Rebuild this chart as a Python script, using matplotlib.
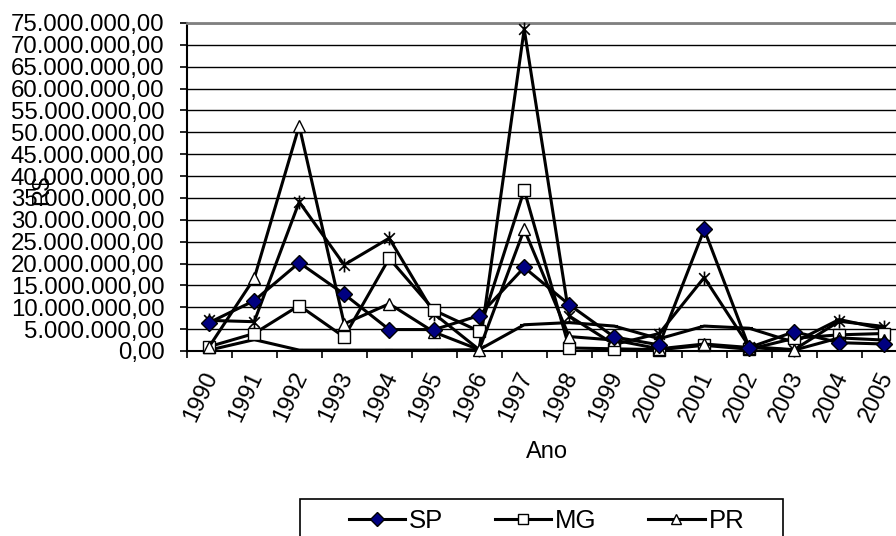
import matplotlib

matplotlib.use("Agg")
import matplotlib.pyplot as plt  # noqa: E402
from matplotlib.lines import Line2D  # noqa: E402
from matplotlib.patches import Rectangle  # noqa: E402
from matplotlib.path import Path  # noqa: E402
from matplotlib.ticker import FuncFormatter, MultipleLocator  # noqa: E402
from matplotlib.transforms import ScaledTranslation  # noqa: E402

plt.rcParams["font.family"] = ["Liberation Sans", "DejaVu Sans"]

# values in millions of R$
years = [str(y) for y in range(1990, 2006)]
sp = [6.5, 11.5, 20.2, 13.0, 4.9, 4.9, 8.1, 19.1, 10.6, 3.2, 1.4, 27.8, 0.8, 4.4, 1.9, 1.6]
mg = [1.0, 4.0, 10.4, 3.2, 21.2, 9.3, 4.5, 36.8, 0.7, 0.5, 0.3, 1.3, 0.4, 2.9, 3.7, 4.0]
pr = [1.0, 16.6, 51.5, 6.2, 10.8, 4.3, 0.3, 27.8, 3.3, 2.5, 0.5, 1.6, 0.8, 0.2, 3.0, 2.5]
serie4 = [7.0, 6.7, 34.1, 19.7, 25.8, 8.5, 0.3, 73.6, 8.0, 1.5, 4.0, 16.8, 1.0, 0.3, 6.8, 5.6]
serie5 = [0.2, 2.6, 0.2, 0.2, 0.2, 0.2, 0.3, 6.0, 6.5, 5.7, 2.8, 5.7, 5.2, 2.0, 7.2, 5.0]

W, H = 896, 536
fig = plt.figure(figsize=(W / 100, H / 100), dpi=100)
# plot area runs past the right edge of the picture, like the cropped original
ax = fig.add_axes([186.7 / W, 1 - 351 / H, 720 / W, 328 / H])

star = Path(
    [(-1, -1), (1, 1), (-1, 1), (1, -1), (0, -1.3), (0, 1.3)],
    [Path.MOVETO, Path.LINETO, Path.MOVETO, Path.LINETO, Path.MOVETO, Path.LINETO],
)

x = list(range(len(years)))
lw = 2.2
common = dict(color="black", lw=lw, mec="black", clip_on=False)

ax.plot(x, [v * 1e6 for v in sp], marker="D", ms=8.5, mfc="#000080", mew=1, zorder=5, **common)
ax.plot(x, [v * 1e6 for v in mg], marker="s", ms=8.5, mfc="white", mew=1, zorder=4, **common)
ax.plot(x, [v * 1e6 for v in pr], marker="^", ms=9, mfc="white", mew=1, zorder=4, **common)
ax.plot(x, [v * 1e6 for v in serie4], marker=star, ms=10, mfc="none", mew=1.2, zorder=3, **common)
ax.plot(x, [v * 1e6 for v in serie5], marker="_", ms=6, mew=1.5, zorder=3, **common)

ax.set_xlim(-0.5, len(years) - 0.5)
ax.set_ylim(0, 75e6)

ax.yaxis.set_major_locator(MultipleLocator(5e6))
ax.yaxis.set_major_formatter(
    FuncFormatter(lambda v, _: f"{v:,.2f}".replace(",", "X").replace(".", ",").replace("X", "."))
)
ax.grid(True, axis="y", color="black", lw=1.0)
ax.set_axisbelow(True)

ax.set_xticks(x)
ax.set_xticks([i - 0.5 for i in range(len(years) + 1)], minor=True)
ax.set_xticklabels(years, rotation=65, ha="right", va="center", rotation_mode="anchor")
ax.tick_params(axis="x", which="major", length=0, pad=16, labelsize=17)
ax.tick_params(axis="x", which="minor", length=5, width=1.2, direction="out")
ax.tick_params(axis="y", length=5, width=1.2, direction="out", pad=11, labelsize=17.3)
shift = ScaledTranslation(3 / 100, 0, fig.dpi_scale_trans)
for lbl in ax.get_xticklabels():
    lbl.set_transform(lbl.get_transform() + shift)

for side in ("left", "bottom"):
    ax.spines[side].set_linewidth(1.5)
    ax.spines[side].set_color("black")
ax.spines["top"].set_color("#808080")
ax.spines["top"].set_linewidth(2)
ax.spines["right"].set_visible(False)

ax.set_xlabel("Ano", fontsize=17)
ax.xaxis.set_label_coords(0.5, (351 - 452) / 328)
ax.xaxis.label.set_va("center")

# axis title sits over the tick labels, as in the original
fig.text(42 / W, 1 - 190 / H, "R$", rotation=90, ha="center", va="center", fontsize=17)

# legend box, cut off at the bottom like the original
fig.patches.append(
    Rectangle((300 / W, -0.2), 483 / W, (1 - 499 / H) + 0.2, transform=fig.transFigure,
              fill=False, edgecolor="black", lw=1.2, figure=fig)
)
handles = [
    Line2D([], [], color="black", lw=2.2, marker="D", ms=7, mfc="#000080", mec="black"),
    Line2D([], [], color="black", lw=2.2, marker="s", ms=7, mfc="white", mec="black"),
    Line2D([], [], color="black", lw=2.2, marker="^", ms=7, mfc="white", mec="black"),
]
fig.legend(handles, ["SP", "MG", "PR"], ncol=3, frameon=False, fontsize=18.5,
           loc="center left", bbox_to_anchor=(336 / W, 1 - 521 / H),
           borderpad=0, handlelength=2.2, handletextpad=0.15, columnspacing=2.0)

fig.savefig("out.png", dpi=100)
